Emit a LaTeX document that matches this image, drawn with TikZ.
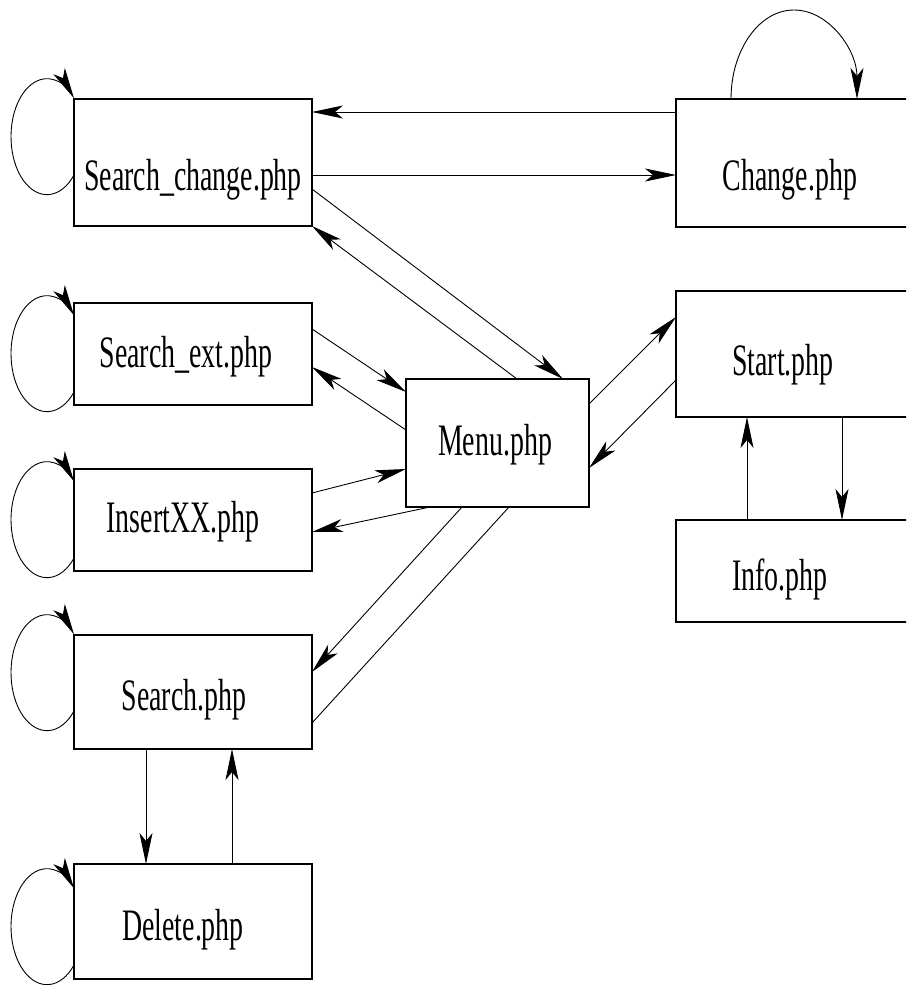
\documentclass[tikz,border=0pt]{standalone}
\usepackage{fontspec}
\setmainfont{Liberation Serif}
\usetikzlibrary{arrows.meta}
\begin{document}
\begin{tikzpicture}[x=1pt, y=-1pt,
  box/.style={draw, line width=1.1pt, inner sep=0pt, outer sep=0pt},
  lbl/.style={anchor=base, inner sep=0pt, font=\fontsize{45}{48}\selectfont},
  link/.style={line width=0.9pt},
  arr/.style={link, -{Stealth[length=31pt,width=13pt,inset=8pt]}},
]
\useasboundingbox (0,0) rectangle (906,985);
\clip (0,0) rectangle (906,985);

% pages
\node[box, minimum width=238pt, minimum height=127pt] (sc) at (193,162.5) {};
\node[box, minimum width=254pt, minimum height=128pt] (ch) at (803,163) {};
\node[box, minimum width=238pt, minimum height=102pt] (se) at (193,354) {};
\node[box, minimum width=238pt, minimum height=102pt] (ix) at (193,520) {};
\node[box, minimum width=183pt, minimum height=128pt] (mn) at (497.5,443) {};
\node[box, minimum width=254pt, minimum height=126pt] (st) at (803,354) {};
\node[box, minimum width=254pt, minimum height=102pt] (in) at (803,571) {};
\node[box, minimum width=238pt, minimum height=114pt] (sr) at (193,692) {};
\node[box, minimum width=238pt, minimum height=115pt] (dl) at (193,921.5) {};

% page names
\node[lbl] (sc-l) at (193,190) {\scalebox{0.62}[1]{Search\_change.php}};
\node[lbl] (ch-l) at (790,190) {\scalebox{0.62}[1]{Change.php}};
\node[lbl] (se-l) at (186,367) {\scalebox{0.62}[1]{Search\_ext.php}};
\node[lbl] (ix-l) at (183,532) {\scalebox{0.62}[1]{InsertXX.php}};
\node[lbl] (mn-l) at (495,455) {\scalebox{0.62}[1]{Menu.php}};
\node[lbl] (st-l) at (783,375) {\scalebox{0.62}[1]{Start.php}};
\node[lbl] (in-l) at (780,590) {\scalebox{0.62}[1]{Info.php}};
\node[lbl] (sr-l) at (184,710) {\scalebox{0.62}[1]{Search.php}};
\node[lbl] (dl-l) at (183,940) {\scalebox{0.62}[1]{Delete.php}};

% transitions between pages
\draw[arr] (ch.west |- 0,112) -- (sc.east |- 0,112);
\draw[arr] (sc.east |- 0,175) -- (ch.west |- 0,175);
\draw[arr] (sc.east |- 0,189) -- (mn.north -| 563,0);
\draw[arr] (mn.north -| 517,0) -- (sc.south east);
\draw[arr] (se.east |- 0,329) -- (mn.west |- 0,392);
\draw[arr] (mn.west |- 0,430) -- (se.east |- 0,367);
\draw[arr] (ix.east |- 0,493) -- (mn.west |- 0,469);
\draw[arr] (mn.south -| 430,0) -- (ix.east |- 0,532);
\draw[arr] (mn.south -| 462,0) -- (sr.east |- 0,672);
\draw[link] (sr.east |- 0,723) -- (mn.south -| 509,0);
\draw[arr] (mn.east |- 0,404) -- (st.west |- 0,317);
\draw[arr] (st.west |- 0,380) -- (mn.east |- 0,468);
\draw[arr] (in.north -| 747,0) -- (st.south -| 747,0);
\draw[arr] (st.south -| 842,0) -- (in.north -| 842,0);
\draw[arr] (sr.south -| 146,0) -- (dl.north -| 146,0);
\draw[arr] (dl.north -| 232,0) -- (sr.south -| 232,0);

% self loops
\draw[arr] (ch.north -| 731,0) arc[start angle=180, end angle=360, x radius=63, y radius=89];
\draw[arr] (sc.west |- 0,175) arc[start angle=41.4, end angle=318.6, x radius=36, y radius=58];
\draw[arr] (se.west |- 0,392) arc[start angle=41.4, end angle=318.6, x radius=36, y radius=58];
\draw[arr] (ix.west |- 0,558) arc[start angle=41.4, end angle=318.6, x radius=36, y radius=58];
\draw[arr] (sr.west |- 0,711) arc[start angle=41.4, end angle=318.6, x radius=36, y radius=58];
\draw[arr] (dl.west |- 0,965) arc[start angle=41.4, end angle=318.6, x radius=36, y radius=58];
\end{tikzpicture}
\end{document}
